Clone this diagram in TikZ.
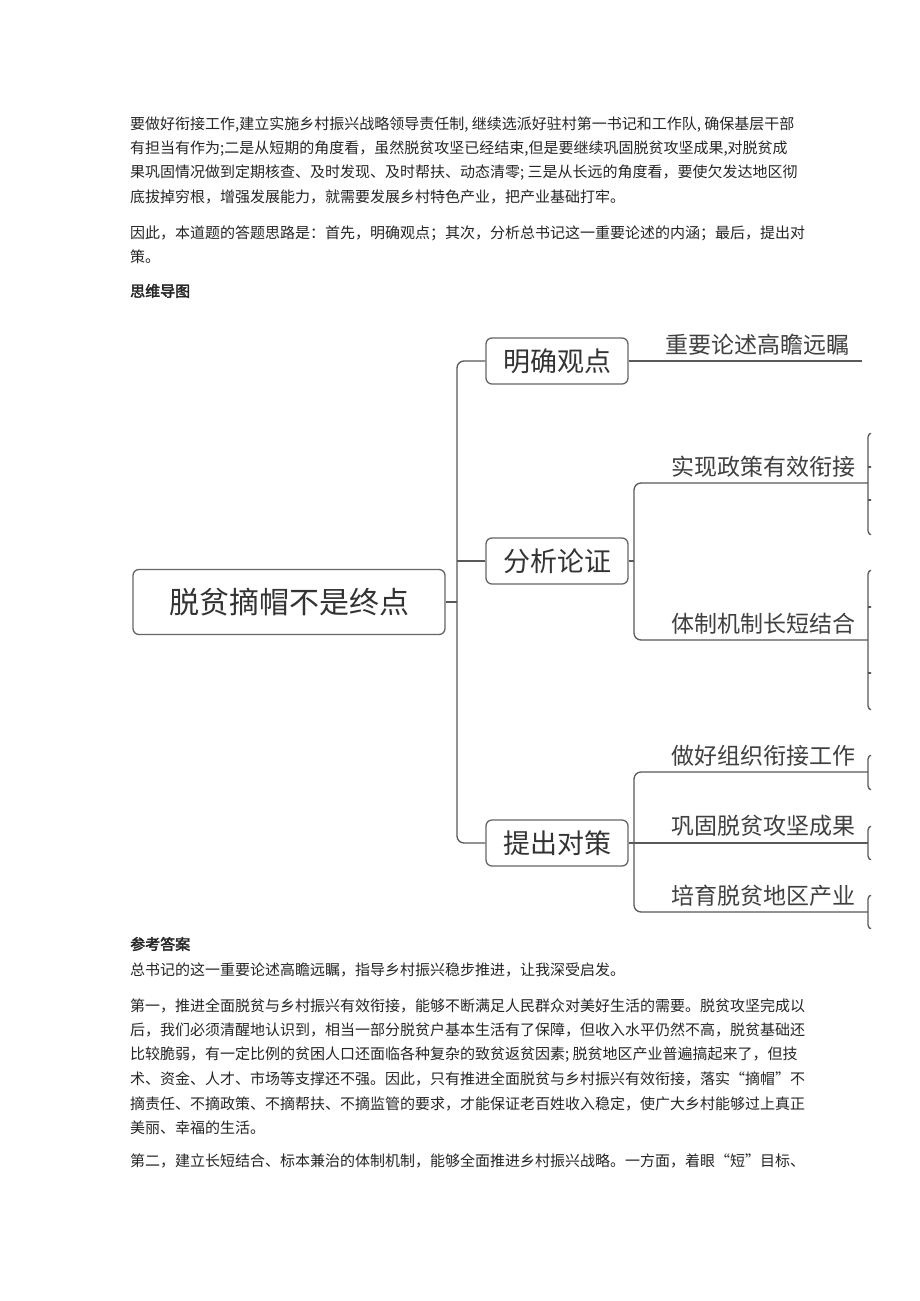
\documentclass[tikz,border=0pt]{standalone}
\usepackage{fontspec}
\setmainfont{Noto Sans CJK SC}[AutoFakeBold=2.5]
\usepackage{tikz}
\usetikzlibrary{calc}
\usetikzlibrary{positioning}

\begin{document}
\begin{tikzpicture}[x=1pt,y=-1pt,
  txt/.style={anchor=west,inner sep=0pt,text=black!85,font=\fontsize{15}{18}\selectfont},
  hd/.style={txt,font=\fontsize{15}{18}\selectfont\bfseries},
  topic/.style={draw=black!60,line width=1.3pt,rounded corners=6pt,text=black!80,fill=white},
  sub/.style={topic,minimum width=142pt,minimum height=46pt,font=\fontsize{27}{30}\selectfont},
  lbl/.style={inner sep=0pt,text=black!75,font=\fontsize{23}{26}\selectfont},
  link/.style={draw=black!65,line width=1.3pt,rounded corners=7pt}]
\useasboundingbox[fill=white] (0,0) rectangle (920,1301);

\node[txt] (p1a) at (130,125) {要做好衔接工作,建立实施乡村振兴战略领导责任制, 继续选派好驻村第一书记和工作队, 确保基层干部};
\node[txt] (p1b) at (130,149) {有担当有作为;二是从短期的角度看，虽然脱贫攻坚已经结束,但是要继续巩固脱贫攻坚成果,对脱贫成};
\node[txt] (p1c) at (130,173) {果巩固情况做到定期核查、及时发现、及时帮扶、动态清零; 三是从长远的角度看，要使欠发达地区彻};
\node[txt] (p1d) at (130,197) {底拔掉穷根，增强发展能力，就需要发展乡村特色产业，把产业基础打牢。};
\node[txt] (p2a) at (130,233) {因此，本道题的答题思路是：首先，明确观点；其次，分析总书记这一重要论述的内涵；最后，提出对};
\node[txt] (p2b) at (130,257) {策。};
\node[hd] (map) at (130,291) {思维导图};

\node[topic,minimum width=312pt,minimum height=65pt,font=\fontsize{30}{34}\selectfont] (root) at (289,602) {脱贫摘帽不是终点};
\node[sub] (mq) at (557,361) {明确观点};
\node[sub] (fx) at (557,561) {分析论证};
\node[sub] (tc) at (557,843) {提出对策};

\coordinate (sp0) at (457,602);
\coordinate (sp1) at (634,561);
\coordinate (sp2) at (634,843);
\coordinate (e0) at (862,361);
\coordinate (e1) at (868,483);
\coordinate (e2) at (868,640);
\coordinate (e3) at (868,772);
\coordinate (e4) at (868,843);
\coordinate (e5) at (868,912);

\begin{scope}
\clip (0,0) rectangle (871,1301);
\draw[link] (root.east) -- (sp0);
\draw[link] (mq.west) -| (sp0) |- (tc.west);
\draw[link] (fx.west) -- (sp0 |- fx.west);
\draw[link] (mq.east) -- (e0);
\draw[link] (fx.east) -- (sp1);
\draw[link] (e1) -| (sp1) |- (e2);
\draw[link] (tc.east) -- (e4);
\draw[link] (e3) -| (sp2) |- (e5);
\foreach \p/\up/\dn in {e1/50/52,e2/70/70,e3/17/18,e4/17/17,e5/17/17}
  \draw[link,rounded corners=4pt] ($(\p)+(6,-\up)$) -| (\p) |- ($(\p)+(6,\dn)$);
\foreach \p/\d in {e1/-16,e1/17,e2/-33,e2/33}
  \draw[link] ($(\p)+(0,\d)$) -- ++(5,0);
\end{scope}

\node[lbl] (l0) at (757,345) {重要论述高瞻远瞩};
\node[lbl] (l1) at (763,467) {实现政策有效衔接};
\node[lbl] (l2) at (763,624) {体制机制长短结合};
\node[lbl] (l3) at (763,756) {做好组织衔接工作};
\node[lbl] (l4) at (763,826) {巩固脱贫攻坚成果};
\node[lbl] (l5) at (763,896) {培育脱贫地区产业};

\node[hd] (ans) at (130,944) {参考答案};
\node[txt] (p3) at (130,970) {总书记的这一重要论述高瞻远瞩，指导乡村振兴稳步推进，让我深受启发。};
\node[txt] (p4a) at (130,1006) {第一，推进全面脱贫与乡村振兴有效衔接，能够不断满足人民群众对美好生活的需要。脱贫攻坚完成以};
\node[txt] (p4b) at (130,1030) {后，我们必须清醒地认识到，相当一部分脱贫户基本生活有了保障，但收入水平仍然不高，脱贫基础还};
\node[txt] (p4c) at (130,1055) {比较脆弱，有一定比例的贫困人口还面临各种复杂的致贫返贫因素; 脱贫地区产业普遍搞起来了，但技};
\node[txt] (p4d) at (130,1079) {术、资金、人才、市场等支撑还不强。因此，只有推进全面脱贫与乡村振兴有效衔接，落实“摘帽”不};
\node[txt] (p4e) at (130,1104) {摘责任、不摘政策、不摘帮扶、不摘监管的要求，才能保证老百姓收入稳定，使广大乡村能够过上真正};
\node[txt] (p4f) at (130,1128) {美丽、幸福的生活。};
\node[txt] (p5) at (130,1161) {第二，建立长短结合、标本兼治的体制机制，能够全面推进乡村振兴战略。一方面，着眼“短”目标、};
\end{tikzpicture}
\end{document}
